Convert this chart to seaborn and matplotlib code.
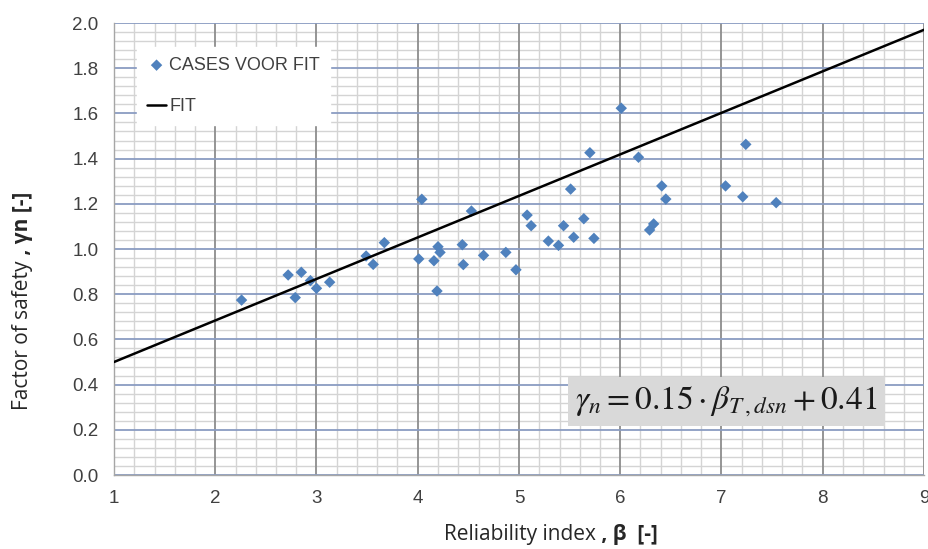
import matplotlib
matplotlib.use("Agg")
import matplotlib.pyplot as plt
from matplotlib.ticker import MultipleLocator, FormatStrFormatter
import pandas as pd
import seaborn as sns

# Cases used for the fit
beta = [2.26, 2.72, 2.85, 2.79, 2.94, 3.00, 3.13, 3.49, 3.56, 3.67,
        4.04, 4.01, 4.16, 4.19, 4.20, 4.22, 4.44, 4.45, 4.53, 4.65,
        4.87, 4.97, 5.08, 5.12, 5.29, 5.39, 5.44, 5.51, 5.54, 5.64,
        5.70, 5.74, 6.01, 6.18, 6.29, 6.33, 6.41, 6.45, 7.04, 7.21,
        7.24, 7.54]
gamma = [0.774, 0.885, 0.897, 0.785, 0.860, 0.826, 0.853, 0.969, 0.932, 1.028,
         1.220, 0.956, 0.948, 0.814, 1.010, 0.985, 1.019, 0.931, 1.168, 0.972,
         0.985, 0.908, 1.150, 1.103, 1.035, 1.016, 1.103, 1.265, 1.052, 1.134,
         1.426, 1.047, 1.623, 1.406, 1.084, 1.111, 1.279, 1.221, 1.279, 1.231,
         1.463, 1.205]

# fitted line as drawn
fit_beta = [1, 9]
fit_gamma = [0.50, 1.97]

x_ticks = [1, 2, 3, 4, 5, 6, 7, 8, 9]
y_ticks = [0.0, 0.2, 0.4, 0.6, 0.8, 1.0, 1.2, 1.4, 1.6, 1.8, 2.0]

formula = r'$\gamma_n = 0.15\cdot\beta_{T\,,dsn} + 0.41$'

sns.set_style("white")
plt.rcParams['font.family'] = ['Liberation Sans', 'DejaVu Sans']

W, H = 929, 549
fig = plt.figure(figsize=(W / 100, H / 100), dpi=100)
ax = fig.add_axes([114 / W, 1 - 475 / H, 810 / W, 452 / H])

df = pd.DataFrame({'beta': beta, 'gamma': gamma})
sns.scatterplot(data=df, x='beta', y='gamma', marker='D', s=34, color='#4f81bd',
                edgecolor='none', ax=ax, label='CASES VOOR FIT', zorder=3)
sns.lineplot(x=fit_beta, y=fit_gamma, color='black', lw=1.8, ax=ax, label='FIT', zorder=4)

ax.set_xlim(1, 9)
ax.set_ylim(0, 2.0)
ax.set_xticks(x_ticks)
ax.set_yticks(y_ticks)
ax.xaxis.set_minor_locator(MultipleLocator(0.2))
ax.yaxis.set_minor_locator(MultipleLocator(0.04))
ax.yaxis.set_major_formatter(FormatStrFormatter('%.1f'))

# excel-like grid: light minor grid, majors drawn on top of it
ax.set_axisbelow(True)
ax.grid(which='minor', color='#d4d4d4', lw=1.0)
for xv in x_ticks:
    ax.axvline(xv, color='#8c8c8c', lw=1.3, zorder=1)
for yv in y_ticks:
    ax.axhline(yv, color='#8a9cc2', lw=1.3, zorder=1.1)

for s in ['top', 'right']:
    ax.spines[s].set_visible(False)
for s in ['left', 'bottom']:
    ax.spines[s].set_color('#a6a6a6')
    ax.spines[s].set_linewidth(1.0)

ax.tick_params(axis='both', which='major', direction='out', length=5, width=1,
               color='#a6a6a6', labelsize=13.5, labelcolor='#404040')
ax.tick_params(axis='both', which='minor', length=0)
ax.tick_params(axis='y', pad=6)
ax.tick_params(axis='x', pad=6)
ax.set_xlabel('')
ax.set_ylabel('')

leg = ax.legend(loc='upper left', bbox_to_anchor=(0.028, 0.947), borderaxespad=0,
                frameon=True, fancybox=False, framealpha=1, edgecolor='white',
                facecolor='white', fontsize=13, labelspacing=1.35, handlelength=1.1,
                handletextpad=0.15, borderpad=0.55)
leg.set_zorder(7)
for t in leg.get_texts():
    t.set_color('#404040')

ax.text(7.05, 0.325, formula, math_fontfamily='stix', fontsize=24, color='#1a1a1a',
        ha='center', va='center', zorder=6,
        bbox=dict(boxstyle='square,pad=0.22', fc='#d9d9d9', ec='none'))

# axis labels: plain part + bold part
xl = fig.text(444 / W, 1 - 540 / H, 'Reliability index', fontsize=15,
              family='Open Sans', color='#262626', ha='left', va='baseline')
ax.annotate(' , β  [-]', xy=(1, 0), xycoords=xl, ha='left', va='bottom',
            fontsize=15, family='Open Sans', fontweight='bold', color='#262626',
            annotation_clip=False)

yl = fig.text(23 / W, 1 - 410 / H, 'Factor of safety', fontsize=15, rotation=90,
              family='Open Sans', color='#262626', ha='center', va='bottom')
ax.annotate(' , γn [-]', xy=(0.5, 1), xycoords=yl, ha='center', va='bottom',
            rotation=90, fontsize=15, family='Open Sans', fontweight='bold',
            color='#262626', annotation_clip=False)

fig.savefig('out.png', dpi=100)
